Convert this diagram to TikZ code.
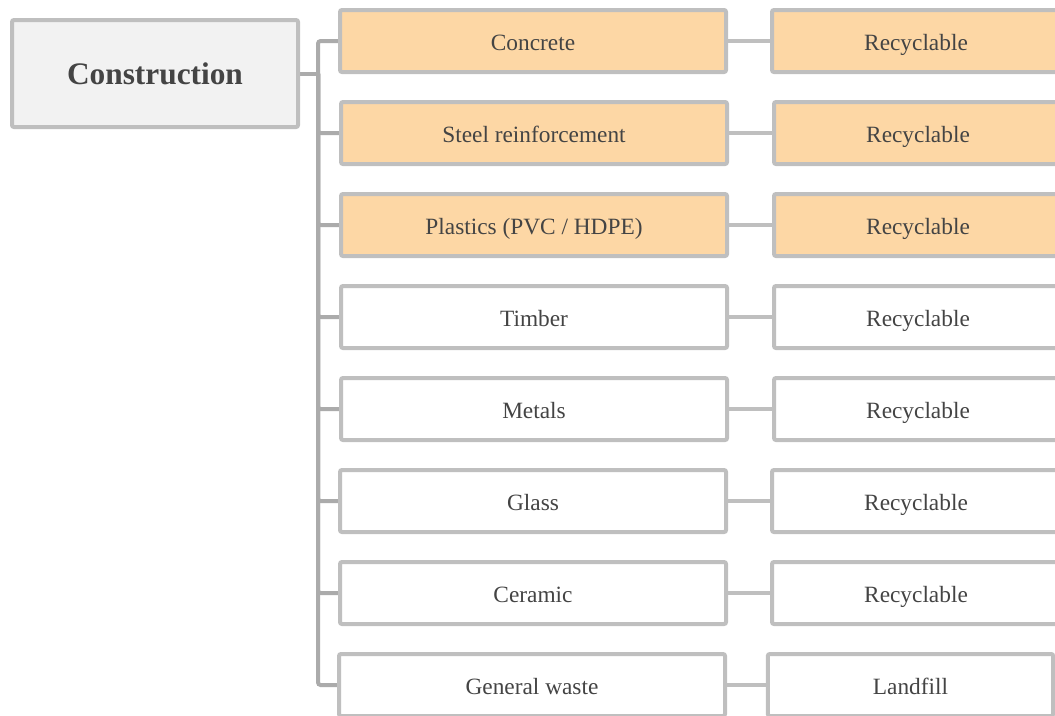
\documentclass[tikz,border=0pt]{standalone}
\usepackage{fontspec}
\setmainfont{Liberation Serif}
\usetikzlibrary{positioning,backgrounds}
\definecolor{BoxLine}{HTML}{BFBFBF}
\definecolor{TrunkLine}{HTML}{ABABAB}
\definecolor{RootFill}{HTML}{F2F2F2}
\definecolor{HotFill}{HTML}{FDD7A5}
\definecolor{InkText}{HTML}{444444}
\tikzset{
  rootbox/.style={rectangle, draw=BoxLine, line width=3pt, fill=RootFill, rounded corners=1.5pt,
             minimum width=214.5pt, minimum height=80.25pt, inner sep=0pt,
             text=InkText, font=\fontsize{23.5}{28}\selectfont\bfseries},
  matbox/.style={rectangle, draw=BoxLine, line width=3pt, fill=white, rounded corners=1.5pt,
             minimum width=289.5pt, minimum height=46.5pt, inner sep=0pt,
             text height=14pt, text depth=0.5pt,
             text=InkText, font=\fontsize{17.5}{21}\selectfont},
  resbox/.style={matbox, minimum width=216pt},
  hot/.style={fill=HotFill},
  trunkedge/.style={line width=3pt, draw=TrunkLine, rounded corners=2pt},
  linkedge/.style={line width=3.5pt, draw=BoxLine},
}

\begin{document}
\begin{tikzpicture}[x=0.75pt, y=-0.75pt]
\useasboundingbox (0,0) rectangle (1055,715);
\clip (0,0) rectangle (1055,715);
\node[rootbox] (root) at (155,73.5) {Construction};
% materials
\node[matbox, hot] (m1) at (533,41) {Concrete};
\node[matbox, hot] (m2) at (534,133) {Steel reinforcement};
\node[matbox, hot] (m3) at (534,225) {Plastics (PVC / HDPE)};
\node[matbox] (m4) at (534,317) {Timber};
\node[matbox] (m5) at (534,409) {Metals};
\node[matbox] (m6) at (533,501) {Glass};
\node[matbox] (m7) at (533,593) {Ceramic};
\node[matbox] (m8) at (532,685) {General waste};
% outcomes
\node[resbox, hot] (r1) at (916,41) {Recyclable};
\node[resbox, hot] (r2) at (918,133) {Recyclable};
\node[resbox, hot] (r3) at (918,225) {Recyclable};
\node[resbox] (r4) at (918,317) {Recyclable};
\node[resbox] (r5) at (918,409) {Recyclable};
\node[resbox] (r6) at (916,501) {Recyclable};
\node[resbox] (r7) at (916,593) {Recyclable};
\node[resbox, minimum width=214pt] (r8) at (910.5,685) {Landfill};
\coordinate (tr) at (318,73.5);
\begin{scope}[on background layer]
\draw[trunkedge] (root.east) -- (tr);
\draw[trunkedge] (tr) |- (m1.west);
\draw[trunkedge] (tr) |- (m2.west);
\draw[trunkedge] (tr) |- (m3.west);
\draw[trunkedge] (tr) |- (m4.west);
\draw[trunkedge] (tr) |- (m5.west);
\draw[trunkedge] (tr) |- (m6.west);
\draw[trunkedge] (tr) |- (m7.west);
\draw[trunkedge] (tr) |- (m8.west);
\draw[linkedge] (m1) -- (r1);
\draw[linkedge] (m2) -- (r2);
\draw[linkedge] (m3) -- (r3);
\draw[linkedge] (m4) -- (r4);
\draw[linkedge] (m5) -- (r5);
\draw[linkedge] (m6) -- (r6);
\draw[linkedge] (m7) -- (r7);
\draw[linkedge] (m8) -- (r8);
\end{scope}
\end{tikzpicture}
\end{document}
